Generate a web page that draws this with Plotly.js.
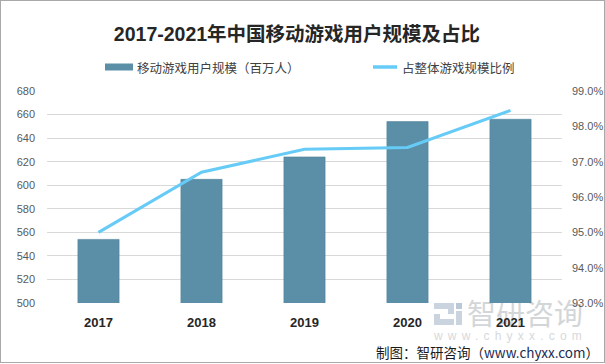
<!DOCTYPE html>
<html>
<head>
<meta charset="utf-8">
<script src="https://cdn.plot.ly/plotly-3.0.1.min.js"></script>
<style>
  html, body { margin: 0; padding: 0; background: #ffffff; }
  #wrap { position: relative; width: 605px; height: 364px; overflow: hidden; background: #ffffff; }
  #wm { position: absolute; left: 0; top: 0; width: 605px; height: 364px; z-index: 0; }
  #chart { position: absolute; left: 0; top: 0; width: 605px; height: 364px; z-index: 1; }
  #border { position: absolute; left: 0; top: 0; width: 605px; height: 363px; box-sizing: border-box;
            border: 1px solid #a9a9a9; z-index: 2; pointer-events: none; }
  .wmtext { position: absolute; font-family: "Noto Sans CJK SC", sans-serif; color: #d3d6d9; white-space: nowrap; }
</style>
</head>
<body>
<div id="wrap">
  <div id="wm">
    <svg width="605" height="364" style="position:absolute;left:0;top:0">
      <path d="M434 303 h20 v11 h-14 v5 h14 v6 h-20 v-11 h14 v-5 h-14 z" fill="#c9d4df"/>
      <rect x="456" y="303" width="6" height="6" fill="#b9c9d8"/>
      <rect x="456" y="311" width="6" height="14" fill="#c9d4df"/>
    </svg>
    <div class="wmtext" style="left:467px; top:295px; font-size:29px; line-height:34px;">智研咨询</div>
    <div class="wmtext" style="left:434px; top:329px; font-size:12px; line-height:14px; letter-spacing:5.2px; font-family:'Liberation Sans',sans-serif; color:#d6d9dc;">www.chyxx.com</div>
  </div>
  <div id="chart"></div>
  <div id="border"></div>
</div>
<script>
// ---- data ----
const years = ['2017', '2018', '2019', '2020', '2021'];
const users = [554, 605, 624, 654, 656];          // 移动游戏用户规模（百万人）
const share = [95.0, 96.7, 97.35, 97.4, 98.45];    // 占整体游戏规模比例 (%)
const barName = '移动游戏用户规模（百万人）';
const lineName = '占整体游戏规模比例';
const chartTitle = '2017-2021年中国移动游戏用户规模及占比';
const sourceText = '制图：智研咨询（www.chyxx.com）';

// ---- layout helpers (pixel -> paper) ----
const W = 605, H = 364;
const mL = 47, mR = 43, mT = 91, mB = 61;
const pw = W - mL - mR, ph = H - mT - mB;
const px = x => (x - mL) / pw;
const py = y => (H - mB - y) / ph;

const barColor = '#5b8fa8';
const lineColor = '#66cbf6';

const traces = [
  {
    type: 'bar', name: barName, x: years, y: users, yaxis: 'y',
    marker: { color: barColor, line: { color: '#4f8199', width: 0.6 } },
    hoverinfo: 'x+y', showlegend: false
  },
  {
    type: 'scatter', mode: 'lines', name: lineName, x: years, y: share, yaxis: 'y2',
    line: { color: lineColor, width: 3 },
    hoverinfo: 'x+y', showlegend: false
  }
];

const tickFont = { family: 'Liberation Sans, Arial, sans-serif', size: 11, color: '#595959' };
const cjk = '"Noto Sans CJK SC", "Liberation Sans", sans-serif';

const layout = {
  width: W, height: H,
  margin: { l: mL, r: mR, t: mT, b: mB, pad: 0 },
  paper_bgcolor: 'rgba(0,0,0,0)',
  plot_bgcolor: 'rgba(0,0,0,0)',
  bargap: 0.6,
  showlegend: false,
  title: {
    text: '<b>' + chartTitle + '</b>',
    font: { family: '"Liberation Sans", "Noto Sans CJK SC", sans-serif', size: 19.5, color: '#262626' },
    xref: 'container', x: 297 / W, xanchor: 'center',
    yref: 'container', y: 1 - 34 / H, yanchor: 'middle'
  },
  xaxis: {
    type: 'category',
    showgrid: false, zeroline: false, showline: false,
    ticks: '', ticklabelstandoff: 10,
    tickfont: { family: 'Liberation Sans, Arial, sans-serif', size: 13, color: '#262626', weight: 'bold' }
  },
  yaxis: {
    range: [500, 680], dtick: 20, tick0: 500,
    showgrid: true, gridcolor: '#d9d9d9', gridwidth: 1,
    zeroline: false, showline: false, ticks: '',
    ticklabelstandoff: 11,
    tickfont: tickFont, fixedrange: true
  },
  yaxis2: {
    overlaying: 'y', side: 'right',
    range: [93, 99], dtick: 1, tick0: 93,
    tickformat: '.1f', ticksuffix: '%',
    showgrid: false, zeroline: false, showline: false, ticks: '',
    ticklabelstandoff: 9,
    tickfont: tickFont, fixedrange: true
  },
  shapes: [
    { type: 'rect', xref: 'paper', yref: 'paper', x0: px(105), x1: px(133), y0: py(70.5), y1: py(63.5),
      fillcolor: barColor, line: { width: 0 } },
    { type: 'line', xref: 'paper', yref: 'paper', x0: px(373), x1: px(397), y0: py(67), y1: py(67),
      line: { color: lineColor, width: 3.5 } }
  ],
  annotations: [
    { xref: 'paper', yref: 'paper', x: px(135), y: py(67), xanchor: 'left', yanchor: 'middle',
      text: barName, showarrow: false, font: { family: cjk, size: 12.5, color: '#404040' } },
    { xref: 'paper', yref: 'paper', x: px(400), y: py(67), xanchor: 'left', yanchor: 'middle',
      text: lineName, showarrow: false, font: { family: cjk, size: 12.5, color: '#404040' } },
    { xref: 'paper', yref: 'paper', x: px(601), y: py(352), xanchor: 'right', yanchor: 'middle',
      text: '制图：智研咨询（<span style="color:#1b2a55">www.chyxx.com</span>）', showarrow: false,
      font: { family: cjk, size: 13.5, color: '#1a1a1a' } }
  ]
};

Plotly.newPlot('chart', traces, layout, { displayModeBar: false, staticPlot: true });
</script>
</body>
</html>
